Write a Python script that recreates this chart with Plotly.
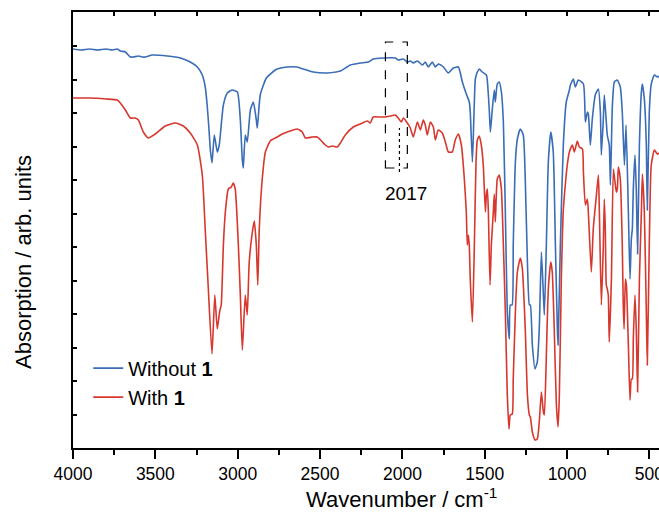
import plotly.graph_objects as go

# Wavenumbers (cm^-1) and relative absorption signal (arb. units)
wn_without = [4000, 3950, 3900, 3850, 3800, 3760, 3731, 3713, 3682, 3652, 3634, 3603, 3580, 3561, 3519, 3427,
              3348, 3288, 3245, 3215, 3197, 3185, 3175, 3166, 3156, 3142, 3124, 3112, 3087, 3063, 3033, 3002,
              2984, 2972, 2966, 2954, 2942, 2923, 2905, 2887, 2881, 2863, 2826, 2772, 2760, 2699, 2638, 2602,
              2541, 2456, 2377, 2316, 2255, 2207, 2177, 2116, 2043, 2025, 1994, 1970, 1952, 1934, 1909, 1879,
              1861, 1843, 1818, 1800, 1782, 1751, 1721, 1691, 1660, 1636, 1612, 1594, 1588, 1575, 1565, 1557,
              1545, 1533, 1515, 1490, 1478, 1472, 1466, 1454, 1442, 1436, 1424, 1412, 1399, 1387, 1375, 1363,
              1351, 1345, 1334, 1327, 1314, 1302, 1284, 1266, 1254, 1241, 1229, 1223, 1211, 1195, 1181, 1169,
              1156, 1144, 1138, 1126, 1114, 1099, 1084, 1071, 1059, 1055, 1041, 1023, 1005, 986, 980, 962,
              950, 932, 901, 889, 877, 871, 859, 847, 829, 810, 798, 792, 780, 774, 762, 756,
              744, 737, 725, 713, 695, 677, 665, 652, 642, 628, 618, 610, 604, 598, 588, 580,
              572, 561, 549, 543, 531, 519, 513, 501, 489, 470, 452, 440]
abs_without = [399, 398, 399, 398, 399, 398, 399, 397, 396, 391, 391, 392, 391, 391, 393, 392,
               390, 386, 381, 373, 361, 342, 320, 298, 285, 313, 296, 303, 343, 355, 358, 356,
               328, 288, 280, 313, 306, 338, 346, 328, 320, 353, 370, 378, 379, 381, 381, 379,
               376, 375, 377, 383, 385, 386, 389, 390, 390, 388, 389, 386, 387, 385, 387, 383,
               386, 381, 386, 381, 384, 381, 375, 380, 381, 366, 354, 346, 336, 286, 336, 369,
               376, 379, 376, 373, 353, 336, 316, 339, 358, 346, 364, 366, 356, 326, 236, 136,
               109, 143, 143, 203, 286, 309, 319, 313, 269, 186, 143, 143, 103, 79, 86, 119,
               196, 153, 133, 203, 286, 316, 296, 203, 119, 103, 203, 303, 346, 358, 363, 369,
               361, 368, 364, 326, 336, 334, 303, 329, 353, 359, 336, 293, 329, 353, 326, 313,
               303, 263, 343, 366, 368, 361, 336, 283, 323, 236, 169, 209, 219, 259, 293, 259,
               194, 303, 356, 364, 349, 303, 238, 336, 364, 373, 371, 372]

wn_with = [4000, 3900, 3800, 3731, 3713, 3682, 3652, 3622, 3603, 3573, 3543, 3500, 3440, 3379, 3330, 3288,
           3245, 3215, 3197, 3178, 3156, 3139, 3124, 3109, 3100, 3087, 3075, 3057, 3039, 3027, 3015, 2996,
           2984, 2972, 2954, 2942, 2930, 2911, 2899, 2887, 2878, 2869, 2851, 2832, 2802, 2760, 2741, 2699,
           2638, 2608, 2589, 2547, 2517, 2486, 2468, 2450, 2426, 2395, 2377, 2347, 2298, 2243, 2213, 2195,
           2177, 2134, 2104, 2073, 2043, 2025, 2007, 1994, 1970, 1952, 1934, 1909, 1891, 1873, 1861, 1849,
           1830, 1812, 1800, 1782, 1758, 1739, 1721, 1697, 1679, 1660, 1642, 1624, 1612, 1606, 1600, 1594,
           1588, 1575, 1563, 1553, 1545, 1533, 1521, 1509, 1496, 1490, 1484, 1478, 1468, 1460, 1448, 1442,
           1436, 1424, 1412, 1399, 1387, 1375, 1363, 1353, 1345, 1333, 1327, 1314, 1302, 1284, 1272, 1254,
           1241, 1229, 1223, 1211, 1195, 1181, 1169, 1156, 1144, 1138, 1126, 1114, 1099, 1090, 1078, 1065,
           1055, 1047, 1035, 1023, 1011, 999, 986, 968, 956, 938, 926, 907, 901, 889, 877, 871,
           853, 841, 822, 810, 804, 792, 780, 774, 768, 762, 756, 750, 744, 731, 719, 707,
           701, 695, 689, 677, 665, 659, 654, 646, 640, 628, 618, 610, 604, 598, 588, 580,
           572, 561, 549, 543, 531, 519, 513, 501, 489, 470, 452, 440]
abs_with = [350, 350, 349, 348, 345, 338, 330, 330, 328, 316, 310, 314, 322, 325, 322, 315,
            303, 273, 218, 158, 94, 153, 119, 137, 143, 203, 236, 259, 261, 265, 259, 203,
            153, 98, 153, 133, 186, 216, 227, 203, 163, 219, 269, 296, 307, 311, 313, 316,
            319, 316, 310, 311, 311, 306, 303, 301, 302, 301, 305, 313, 321, 325, 327, 325,
            331, 331, 331, 332, 333, 330, 326, 330, 325, 320, 311, 326, 318, 328, 323, 313,
            326, 321, 308, 318, 315, 306, 296, 296, 308, 314, 303, 269, 236, 203, 213, 203,
            169, 126, 203, 286, 308, 312, 303, 283, 236, 254, 259, 236, 163, 203, 236, 254,
            226, 269, 273, 259, 203, 136, 53, 19, 33, 34, 69, 136, 176, 190, 180, 119,
            53, 33, 31, 16, 8, 9, 26, 56, 36, 33, 93, 159, 186, 176, 119, 43,
            21, 53, 169, 238, 263, 283, 296, 303, 296, 307, 301, 299, 276, 243, 249, 236,
            176, 219, 253, 273, 236, 143, 203, 249, 219, 163, 159, 153, 106, 169, 279, 263,
            256, 259, 281, 269, 203, 143, 119, 169, 163, 103, 48, 69, 69, 109, 153, 119,
            56, 169, 236, 274, 236, 136, 83, 203, 283, 298, 294, 295]

x_tick_vals = [4000, 3500, 3000, 2500, 2000, 1500, 1000, 500]
x_tick_text = ["4000", "3500", "3000", "2500", "2000", "1500", "1000", "500"]

series_names = ["Without <b>1</b>", "With <b>1</b>"]
series_colors = ["#3a6db5", "#d8372e"]

band_label = "2017"
band_wn = 2018
box_wn = [2103, 1970]
box_abs = [280, 406]

FONT = "Arial, Liberation Sans, sans-serif"

fig = go.Figure()
fig.add_trace(go.Scatter(x=wn_without, y=abs_without, mode="lines", name=series_names[0],
                         line=dict(color=series_colors[0], width=1.6, shape="spline", smoothing=0.5)))
fig.add_trace(go.Scatter(x=wn_with, y=abs_with, mode="lines", name=series_names[1],
                         line=dict(color=series_colors[1], width=1.6, shape="spline", smoothing=0.5)))
# empty trace to carry the top (mirror) tick axis
fig.add_trace(go.Scatter(x=[None], y=[None], xaxis="x2", showlegend=False, hoverinfo="skip"))

x_range = [4000, 442]

fig.update_layout(
    width=659, height=515,
    margin=dict(l=73, r=0, t=12, b=67, autoexpand=False),
    paper_bgcolor="white", plot_bgcolor="white",
    font=dict(family=FONT, color="black"),
    showlegend=True,
    legend=dict(x=0.026, y=0.228, xanchor="left", yanchor="top",
                bgcolor="rgba(0,0,0,0)", font=dict(size=20, family=FONT),
                tracegroupgap=0, itemwidth=30),
    xaxis=dict(range=x_range, showgrid=False, zeroline=False, automargin=False,
               showline=True, linecolor="black", linewidth=1.5, mirror=True,
               tickmode="array", tickvals=x_tick_vals, ticktext=x_tick_text,
               ticks="outside", ticklen=9, tickwidth=1.5, tickcolor="black",
               ticklabeloverflow="allow",
               tickfont=dict(size=17.5, family=FONT),
               minor=dict(ticks="outside", ticklen=5, tickwidth=1.5, tickcolor="black",
                          dtick=250, tick0=0, showgrid=False)),
    xaxis2=dict(range=x_range, overlaying="x", side="top", showgrid=False, zeroline=False,
                automargin=False,
                showline=False, showticklabels=False, ticks="inside", ticklen=4,
                tickwidth=1.5, tickcolor="black", tickmode="linear", tick0=0, dtick=250),
    yaxis=dict(range=[0, 436], showgrid=False, zeroline=False, showline=True, automargin=False,
               linecolor="black", linewidth=1.5, showticklabels=False,
               ticks="inside", ticklen=4, tickwidth=1.5, tickcolor="black",
               tickmode="linear", tick0=0, dtick=33.5),
)

# dashed box and dotted marker for the 2017 band
fig.add_shape(type="rect", xref="x", yref="y", x0=box_wn[0], x1=box_wn[1], y0=box_abs[0], y1=box_abs[1],
              line=dict(color="black", width=1.2, dash="dash"))
fig.add_shape(type="line", xref="x", yref="y", x0=band_wn, x1=band_wn, y0=276, y1=320,
              line=dict(color="black", width=1.2, dash="dot"))
fig.add_annotation(x=1978, y=255, xref="x", yref="y", text=band_label, showarrow=False,
                   font=dict(size=19, family=FONT, color="black"))

# axis titles
fig.add_annotation(x=0.56, y=-0.1147, xref="paper", yref="paper",
                   text="Wavenumber / cm<sup>-1</sup>", showarrow=False,
                   xanchor="center", yanchor="middle",
                   font=dict(size=22, family=FONT, color="black"))
fig.add_annotation(x=-0.0853, y=0.4266, xref="paper", yref="paper",
                   text="Absorption / arb. units", showarrow=False, textangle=-90,
                   xanchor="center", yanchor="middle",
                   font=dict(size=22, family=FONT, color="black"))

fig.write_html("out.html", config={"displayModeBar": False},
               post_script="document.body.style.margin='0';document.body.style.overflow='hidden';")
